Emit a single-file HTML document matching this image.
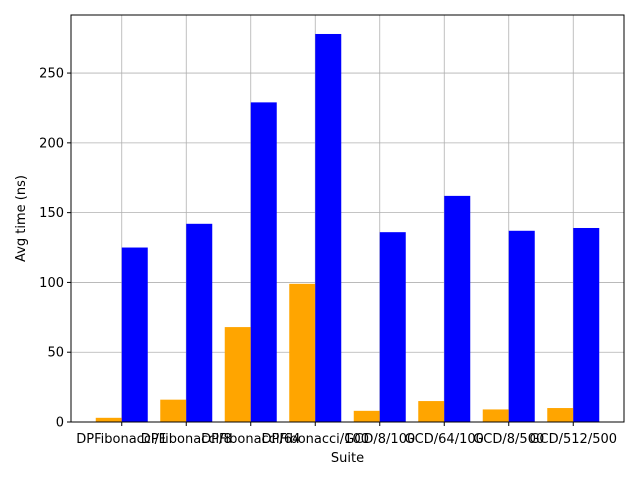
<!DOCTYPE html>
<html><head><meta charset="utf-8"><style>
body{margin:0;background:#fff}
svg text{font-family:"DejaVu Sans","Liberation Sans",sans-serif;font-size:13px;fill:#000}
</style></head><body>
<svg id="c" width="640" height="480"></svg>
<script>
const categories=["DPFibonacci/1","DPFibonacci/8","DPFibonacci/64","DPFibonacci/100","GCD/8/100","GCD/64/100","GCD/8/500","GCD/512/500"];
const seriesA=[3,16,68,99,8,15,9,10];
const seriesB=[125,142,229,278,136,162,137,139];
const yTicks=[0,50,100,150,200,250];
const NS="http://www.w3.org/2000/svg";
const svg=document.getElementById('c');
const L=71,R=624,T=15,B=422,yMax=291.6;
const y=v=>B-v/yMax*(B-T);
const step=64.5;
const x0=122.5-((R-L)-step*(categories.length-1))/2-L;
const xc=i=>L+((R-L)-step*(categories.length-1))/2+step*i;
function mk(t,a,p){const e=document.createElementNS(NS,t);for(const k in a)e.setAttribute(k,a[k]);(p||svg).appendChild(e);return e;}
const grid=mk('g',{});


categories.forEach((c,i)=>{mk('line',{x1:xc(i),x2:xc(i),y1:T,y2:B,stroke:'#b0b0b0','stroke-width':0.8},grid);});
yTicks.forEach(v=>{mk('line',{x1:L,x2:R,y1:y(v),y2:y(v),stroke:'#b0b0b0','stroke-width':0.8},grid);});
const bw=26;
categories.forEach((c,i)=>{
 const a=mk('rect',{x:xc(i)-bw,y:y(seriesA[i]),width:bw,height:B-y(seriesA[i]),fill:'orange'});
 
 
 const b=mk('rect',{x:xc(i),y:y(seriesB[i]),width:bw,height:B-y(seriesB[i]),fill:'blue'});
 
 
});
mk('rect',{x:L,y:T,width:R-L,height:B-T,fill:'none',stroke:'#000','stroke-width':1});
yTicks.forEach(v=>{
 mk('line',{x1:L-4,x2:L,y1:y(v),y2:y(v),stroke:'#000'});
 const t=mk('text',{x:L-7,y:y(v)+4.5,'text-anchor':'end'});t.textContent=v;
 
 
});
categories.forEach((c,i)=>{
 mk('line',{x1:xc(i),x2:xc(i),y1:B,y2:B+4,stroke:'#000'});
 const t=mk('text',{x:xc(i),y:B+21,'text-anchor':'middle'});t.textContent=c;
 
 
});
const xt=mk('text',{x:(L+R)/2,y:462,'text-anchor':'middle'});xt.textContent='Suite';


const yt=mk('text',{x:0,y:0,'text-anchor':'middle',transform:`translate(25,${(T+B)/2}) rotate(-90)`});yt.textContent='Avg time (ns)';


</script>
</body></html>
